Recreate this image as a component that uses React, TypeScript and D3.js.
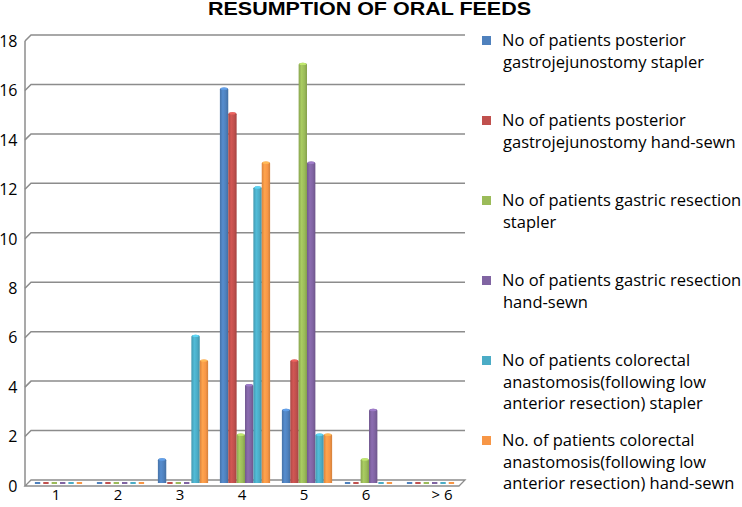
import React from "react";
import * as d3 from "d3";

const categories = ["1", "2", "3", "4", "5", "6", "> 6"];
const gjStapler = [0, 0, 1, 16, 3, 0, 0];
const gjHandSewn = [0, 0, 0, 15, 5, 0, 0];
const grStapler = [0, 0, 0, 2, 17, 1, 0];
const grHandSewn = [0, 0, 0, 4, 13, 3, 0];
const crStapler = [0, 0, 6, 12, 2, 0, 0];
const crHandSewn = [0, 0, 5, 13, 2, 0, 0];
const seriesValues = [gjStapler, gjHandSewn, grStapler, grHandSewn, crStapler, crHandSewn];
const seriesColors = ["#4F81BD", "#C0504D", "#9BBB59", "#8064A2", "#4BACC6", "#F79646"];
const legendLines = [
  ["No of patients posterior", "gastrojejunostomy stapler"],
  ["No of patients posterior", "gastrojejunostomy hand-sewn"],
  ["No of patients gastric resection", "stapler"],
  ["No of patients gastric resection", "hand-sewn"],
  ["No of patients colorectal", "anastomosis(following low", "anterior resection) stapler"],
  ["No. of patients colorectal", "anastomosis(following low", "anterior resection) hand-sewn"],
];
const yTicks = [0, 2, 4, 6, 8, 10, 12, 14, 16, 18];
const title = "RESUMPTION OF ORAL FEEDS";

const W = 742, H = 507;
const DX = 6, DY = 6; // 3D depth offset
const frontLeft = 25, frontRight = 459;
const backBottom = 480, backTop = 35;

export default function App() {
  const x = d3.scaleBand<string>().domain(categories).range([frontLeft, frontRight]);
  const y = d3.scaleLinear().domain([0, 18]).range([backBottom, backTop]);
  const inner = d3
    .scaleBand<number>()
    .domain(d3.range(seriesValues.length))
    .range([0, x.bandwidth() * 0.81]);
  const bw = inner.bandwidth();
  const groupOff = (x.bandwidth() - x.bandwidth() * 0.81) / 2;
  const midDX = DX / 2, midDY = DY / 2;
  const font = "'Open Sans', 'Liberation Sans', sans-serif";

  const shade = (c: string, k: number) => {
    const col = d3.color(c)!;
    return k > 0 ? col.brighter(k).formatHex() : col.darker(-k).formatHex();
  };

  return (
    <svg width={W} height={H} style={{ position: "absolute", left: 0, top: 0, background: "#fff" }}>
      <defs>
        {seriesColors.map((c, i) => (
          <linearGradient key={i} id={`g${i}`} x1="0" x2="1" y1="0" y2="0">
            <stop offset="0" stopColor={shade(c, -0.35)} />
            <stop offset="0.35" stopColor={shade(c, 0.25)} />
            <stop offset="0.7" stopColor={c} />
            <stop offset="1" stopColor={shade(c, -0.45)} />
          </linearGradient>
        ))}
      </defs>
      <text
        x={369.5}
        y={15}
        textAnchor="middle"
        fontFamily="'Liberation Sans', Arial, sans-serif"
        fontWeight="bold"
        fontSize={17.5}
        textLength={323}
        lengthAdjust="spacingAndGlyphs"
        fill="#000"
      >
        {title}
      </text>
      {/* floor */}
      <path
        d={`M${frontLeft + DX},${backBottom} L${frontRight + DX},${backBottom} L${frontRight},${backBottom + DY} L${frontLeft},${backBottom + DY} Z`}
        fill="#fff"
        stroke="#8c8c8c"
        strokeWidth={1.3}
      />
      {/* left wall front edge */}
      <line x1={frontLeft} x2={frontLeft} y1={y(18) + DY} y2={backBottom + DY} stroke="#8c8c8c" strokeWidth={1.5} />
      {/* gridlines */}
      {yTicks.filter((t) => t > 0).map((t) => (
        <path
          key={t}
          d={`M${frontLeft},${y(t) + DY} L${frontLeft + DX},${y(t)} L${frontRight + DX},${y(t)}`}
          fill="none"
          stroke="#8c8c8c"
          strokeWidth={1.5}
        />
      ))}
      {/* y tick labels */}
      {yTicks.map((t) => (
        <text
          key={t}
          x={17.5}
          y={y(t) + DY}
          dy="0.36em"
          textAnchor="end"
          fontFamily={font}
          fontSize={16}
          fill="#000"
        >
          {t}
        </text>
      ))}
      {/* bars */}
      {categories.map((cat, ci) =>
        seriesValues.map((vals, si) => {
          const v = vals[ci];
          const bx = (x(cat) as number) + groupOff + (inner(si) as number) + midDX;
          const yb = y(0) + midDY;
          if (v === 0) {
            return (
              <g key={`${ci}-${si}`}>
                <rect x={bx + 1} y={yb - 1} width={bw - 3} height={2} fill={seriesColors[si]} />
              </g>
            );
          }
          const yt = y(v) + midDY;
          const r = 2;
          const d = `M${bx},${yb} L${bx},${yt + r} Q${bx},${yt} ${bx + bw / 2},${yt} Q${bx + bw},${yt} ${bx + bw},${yt + r} L${bx + bw},${yb} Z`;
          return (
            <g key={`${ci}-${si}`}>
              <path d={d} fill={`url(#g${si})`} />
              <ellipse cx={bx + bw / 2} cy={yt + 1.2} rx={bw / 2 - 0.8} ry={1.2} fill={shade(seriesColors[si], 0.6)} />
            </g>
          );
        })
      )}
      {/* x labels */}
      {categories.map((cat) => (
        <text
          key={cat}
          x={(x(cat) as number) + x.bandwidth() / 2 + (cat === "> 6" ? 14 : 0)}
          y={500}
          textAnchor="middle"
          fontFamily={font}
          fontSize={15}
          fill="#000"
        >
          {cat}
        </text>
      ))}
      {/* legend */}
      {legendLines.map((lines, i) => {
        const by = 46 + i * 80;
        return (
          <g key={i}>
            <rect x={482} y={by - 10} width={9} height={9} fill={seriesColors[i]} />
            {lines.map((ln, li) => (
              <text
                key={li}
                x={li === 0 ? 502 : 503}
                y={by + li * 21.5}
                fontFamily={font}
                fontSize={16.5}
                fill="#000"
              >
                {ln}
              </text>
            ))}
          </g>
        );
      })}
    </svg>
  );
}
